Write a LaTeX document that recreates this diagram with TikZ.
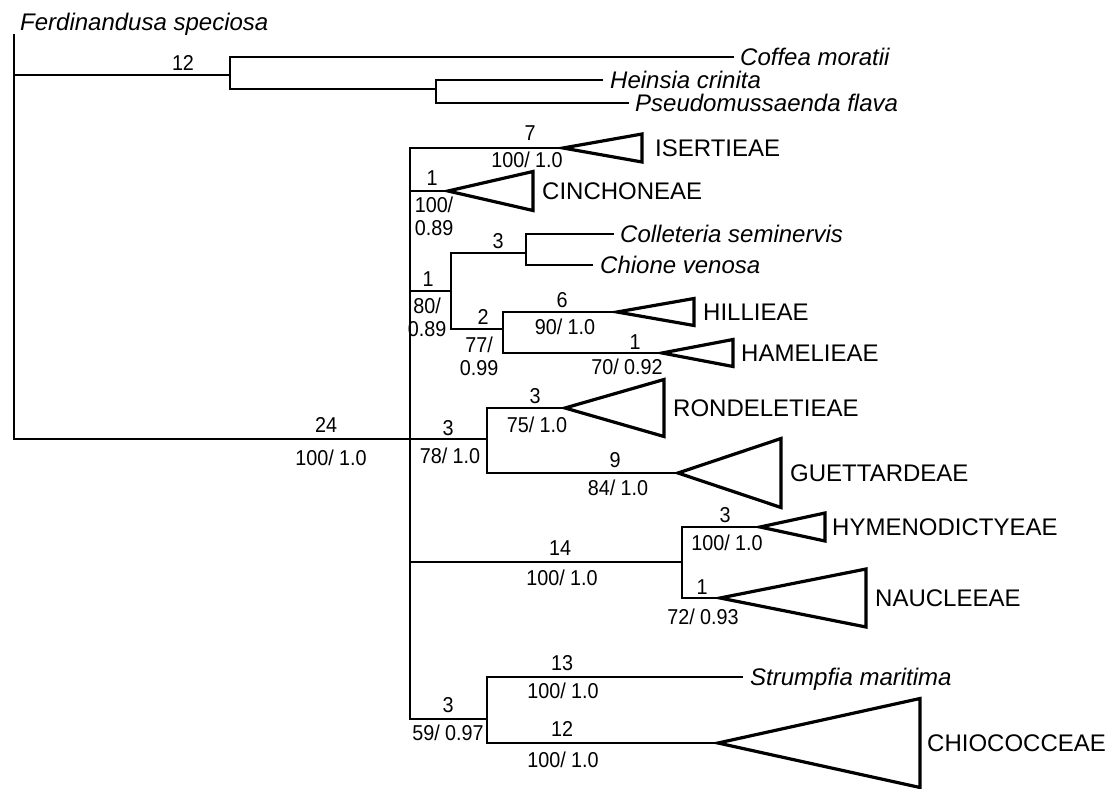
\documentclass[tikz,border=0pt]{standalone}
\usepackage{fontspec}
\setmainfont{Liberation Sans}
\newfontfamily\numfont[FakeStretch=0.92]{Liberation Sans}
\usetikzlibrary{positioning}
\tikzset{
    branch/.style={line width=2.4pt, line cap=rect},
    tree/.style={branch, to path={|- (\tikztotarget)}},
    clade/.style={line width=3.2pt, line join=miter},
    num/.style={font=\numfont\fontsize{21.5}{23}\selectfont, inner sep=0pt, align=center},
    taxon/.style={font=\fontsize{24}{24}\selectfont\itshape, anchor=base west,
        inner sep=0pt, yshift=-8.5pt},
    tribe/.style={font=\fontsize{24}{24}\selectfont, anchor=base west,
        inner sep=0pt, yshift=-8.5pt}
}

\begin{document}
\begin{tikzpicture}[x=1pt, y=-1pt]
    \useasboundingbox (0,0) rectangle (1119,789);
    % internal nodes
    \coordinate (root) at (14,439);
    \coordinate (nout) at (230,75);
    \coordinate (nhein) at (436,89);
    \coordinate (ning) at (410,439);
    \coordinate (ncol) at (451,291);
    \coordinate (ncc) at (526,253);
    \coordinate (nhh) at (503,329);
    \coordinate (nrond) at (487,439);
    \coordinate (nhym) at (682,562);
    \coordinate (nchio) at (487,719);
    % tips
    \coordinate (ferd) at (14,35);
    \coordinate (coffea) at (733,57);
    \coordinate (heinsia) at (602,80);
    \coordinate (pseudo) at (628,103);
    \coordinate (colle) at (613,234);
    \coordinate (chione) at (592,265);
    \coordinate (strump) at (742,677);
    % collapsed clades (apex)
    \coordinate (isert) at (563,148);
    \coordinate (cinch) at (448,191);
    \coordinate (hill) at (617,312);
    \coordinate (hamel) at (662,353);
    \coordinate (rond) at (565,408);
    \coordinate (guett) at (678,473);
    \coordinate (hymen) at (760,527);
    \coordinate (naucl) at (720,598);
    \coordinate (chioc) at (718,743);

    \path (root) edge[tree] (ferd) edge[tree] (nout) edge[tree] (ning)
        (nout) edge[tree] (coffea) edge[tree] (nhein)
        (nhein) edge[tree] (heinsia) edge[tree] (pseudo)
        (ning) edge[tree] (isert) edge[tree] (cinch) edge[tree] (ncol)
            edge[tree] (nrond) edge[tree] (nhym) edge[tree] (nchio)
        (ncol) edge[tree] (ncc) edge[tree] (nhh)
        (ncc) edge[tree] (colle) edge[tree] (chione)
        (nhh) edge[tree] (hill) edge[tree] (hamel)
        (nrond) edge[tree] (rond) edge[tree] (guett)
        (nhym) edge[tree] (hymen) edge[tree] (naucl)
        (nchio) edge[tree] (strump) edge[tree] (chioc);

    \draw[clade] (isert) -- ++(79,-14) -- ++(0,28) -- cycle;
    \draw[clade] (cinch) -- ++(85,-19.5) -- ++(0,39) -- cycle;
    \draw[clade] (hill) -- ++(77,-13.5) -- ++(0,27) -- cycle;
    \draw[clade] (hamel) -- ++(71,-13.5) -- ++(0,27) -- cycle;
    \draw[clade] (rond) -- ++(99,-28.5) -- ++(0,57) -- cycle;
    \draw[clade] (guett) -- ++(103,-34.5) -- ++(0,69) -- cycle;
    \draw[clade] (hymen) -- ++(65,-14) -- ++(0,28) -- cycle;
    \draw[clade] (naucl) -- ++(146,-29) -- ++(0,58) -- cycle;
    \draw[clade] (chioc) -- ++(202,-44.5) -- ++(0,89) -- cycle;

    % taxon names
    \node[taxon] (lferd) at (20,22) {Ferdinandusa speciosa};
    \node[taxon] (lcoffea) at (740,57) {Coffea moratii};
    \node[taxon] (lheinsia) at (610,80) {Heinsia crinita};
    \node[taxon] (lpseudo) at (635,103) {Pseudomussaenda flava};
    \node[taxon] (lcolle) at (620,234) {Colleteria seminervis};
    \node[taxon] (lchione) at (600,265) {Chione venosa};
    \node[taxon] (lstrump) at (750,677) {Strumpfia maritima};
    \node[tribe] (lisert) at (655,148) {ISERTIEAE};
    \node[tribe] (lcinch) at (542,191) {CINCHONEAE};
    \node[tribe] (lhill) at (703,312) {HILLIEAE};
    \node[tribe] (lhamel) at (741,353) {HAMELIEAE};
    \node[tribe] (lrond) at (673,408) {RONDELETIEAE};
    \node[tribe] (lguett) at (790,473) {GUETTARDEAE};
    \node[tribe] (lhymen) at (832,527) {HYMENODICTYEAE};
    \node[tribe] (lnaucl) at (875,598) {NAUCLEEAE};
    \node[tribe] (lchioc) at (927,743) {CHIOCOCCEAE};

    % branch lengths and support
    \node[num] (bout) at (183,63) {12};
    \node[num] (bing) at (326,425) {24};
    \node[num] (sing) at (331,458) {100/ 1.0};
    \node[num] (bisert) at (530,133) {7};
    \node[num] (sisert) at (527,160) {100/ 1.0};
    \node[num] (bcinch) at (432,178) {1};
    \node[num] (scinch) at (434,216) {100/\\0.89};
    \node[num] (bcol) at (428,279) {1};
    \node[num] (scol) at (427,317) {80/\\0.89};
    \node[num] (bcc) at (498,241) {3};
    \node[num] (bhh) at (483,317) {2};
    \node[num] (shh) at (479,356) {77/\\0.99};
    \node[num] (bhill) at (562,300) {6};
    \node[num] (shill) at (565,327) {90/ 1.0};
    \node[num] (bhamel) at (635,342) {1};
    \node[num] (shamel) at (627,367) {70/ 0.92};
    \node[num] (brondg) at (448,428) {3};
    \node[num] (srondg) at (450,456) {78/ 1.0};
    \node[num] (brond) at (535,396) {3};
    \node[num] (srond) at (537,425) {75/ 1.0};
    \node[num] (bguett) at (615,460) {9};
    \node[num] (sguett) at (618,488) {84/ 1.0};
    \node[num] (bhym) at (560,548) {14};
    \node[num] (shym) at (562,578) {100/ 1.0};
    \node[num] (bhymen) at (725,515) {3};
    \node[num] (shymen) at (727,543) {100/ 1.0};
    \node[num] (bnaucl) at (702,587) {1};
    \node[num] (snaucl) at (703,617) {72/ 0.93};
    \node[num] (bchio) at (448,705) {3};
    \node[num] (schio) at (448,733) {59/ 0.97};
    \node[num] (bstrump) at (562,663) {13};
    \node[num] (sstrump) at (563,691) {100/ 1.0};
    \node[num] (bchioc) at (562,729) {12};
    \node[num] (schioc) at (563,760) {100/ 1.0};
\end{tikzpicture}
\end{document}
